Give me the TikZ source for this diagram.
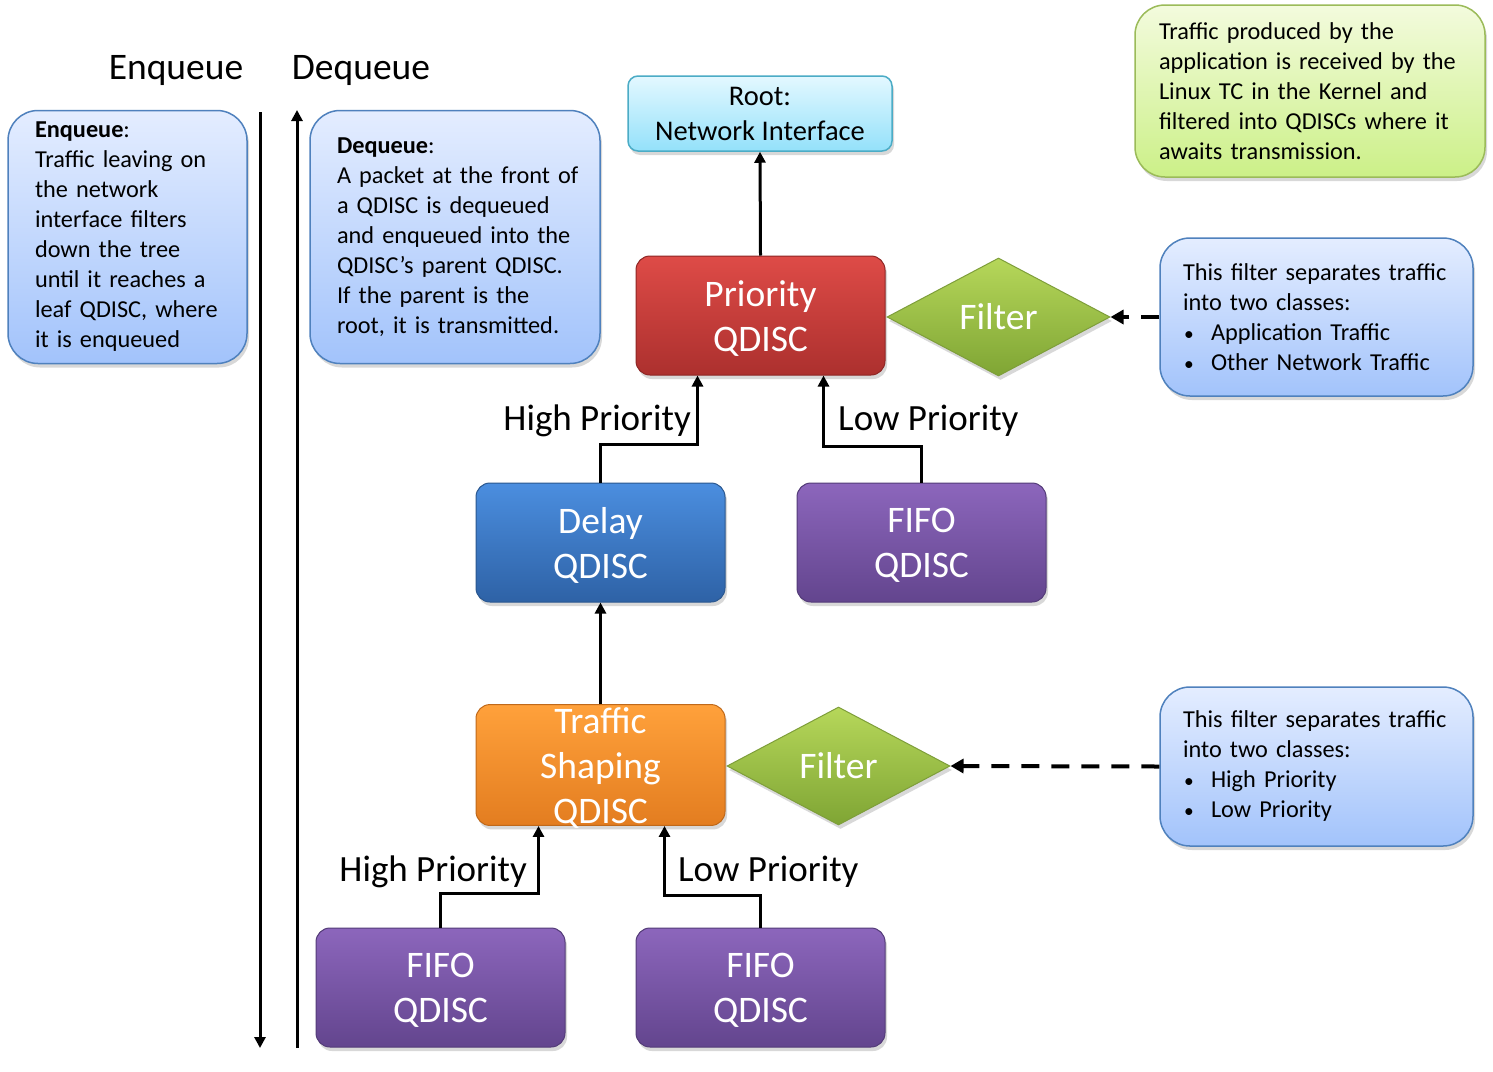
\documentclass[tikz,border=0pt]{standalone}
\usepackage{fontspec}
\setmainfont{Carlito}
\usetikzlibrary{shapes.geometric,arrows.meta,shadows}
\definecolor{redT}{HTML}{DE4B47}\definecolor{redB}{HTML}{AC302E}\definecolor{redD}{HTML}{8E2624}
\definecolor{bluT}{HTML}{4B8EDF}\definecolor{bluB}{HTML}{2E62A6}\definecolor{bluD}{HTML}{2A578F}
\definecolor{purT}{HTML}{8C66BC}\definecolor{purB}{HTML}{63458E}\definecolor{purD}{HTML}{533B78}
\definecolor{oraT}{HTML}{FFA13B}\definecolor{oraB}{HTML}{E37D20}\definecolor{oraD}{HTML}{C0691A}
\definecolor{rooT}{HTML}{E3F8FF}\definecolor{rooB}{HTML}{94E1FA}\definecolor{rooD}{HTML}{4BACC6}
\definecolor{grnT}{HTML}{F3FBDD}\definecolor{grnB}{HTML}{CCF088}\definecolor{grnD}{HTML}{9BBB59}
\definecolor{notT}{HTML}{E4EDFF}\definecolor{notB}{HTML}{A2C3FB}\definecolor{notD}{HTML}{4F81BD}
\definecolor{dmdT}{HTML}{B6D75A}\definecolor{dmdB}{HTML}{7FA534}\definecolor{dmdD}{HTML}{7E9E3A}
\newcommand{\qtxt}[1]{\raisebox{-3pt}[\height][\depth]{\parbox{240pt}{\centering #1}}}
\begin{document}
\begin{tikzpicture}[x=1pt,y=-1pt,
  shad/.style={drop shadow={opacity=0.3,shadow xshift=2pt,shadow yshift=-4pt}},
  qbox/.style={shad,rounded corners=14pt,minimum width=249pt,minimum height=119pt,
    text=white,font=\fontsize{37.5}{45}\selectfont,align=center,line width=1pt,inner sep=0pt},
  redq/.style={qbox,draw=redD,top color=redT,bottom color=redB},
  bluq/.style={qbox,draw=bluD,top color=bluT,bottom color=bluB},
  purq/.style={qbox,draw=purD,top color=purT,bottom color=purB},
  oraq/.style={qbox,draw=oraD,top color=oraT,bottom color=oraB},
  note/.style={shad,rounded corners=30pt,line width=1.5pt,draw=notD,top color=notT,bottom color=notB,
    align=left,font=\fontsize{24.3}{30}\selectfont,inner ysep=0pt},
  dmd/.style={shad,diamond,minimum width=223pt,minimum height=118pt,inner sep=0pt,
    draw=dmdD,line width=1pt,top color=dmdT,bottom color=dmdB,text=white,font=\fontsize{37.5}{45}\selectfont},
  lbl/.style={font=\fontsize{37}{40}\selectfont,inner sep=0pt},
  hdr/.style={font=\fontsize{37.5}{40}\selectfont,inner sep=0pt},
  arr/.style={line width=3pt,-{Triangle[length=11pt,width=11pt]}},
  darr/.style={line width=4pt,dash pattern=on 18pt off 12pt,-{Triangle[length=13pt,width=14pt]}}
]
\useasboundingbox[fill=white] (0,0) rectangle (1493,1071);

% headers
\node[hdr] (hen) at (176,70) {Enqueue};
\node[hdr] (hde) at (361,70) {Dequeue};

% left notes
\node[note,minimum width=239pt,minimum height=253pt,text width=185pt,inner xsep=27pt] (enq) at (127.5,237)
 {\textbf{Enqueue}:\\Traffic leaving on\\the network\\interface filters\\down the tree\\until it reaches a\\leaf QDISC, where\\it is enqueued};
\node[note,minimum width=290pt,minimum height=253pt,text width=236pt,inner xsep=27pt] (deq) at (455,237)
 {\textbf{Dequeue}:\\A~packet~at~the~front~of\\a QDISC is dequeued\\and enqueued into the\\QDISC’s parent QDISC.\\If the parent is the\\root, it is transmitted.};

% vertical arrows
\coordinate (ea) at (260,112); \coordinate (eb) at (260,1048);
\coordinate (da) at (297,1048); \coordinate (db) at (297,110);
\draw[arr] (ea) -- (eb);
\draw[arr] (da) -- (db);

% root
\node[shad,rounded corners=10pt,minimum width=264pt,minimum height=75pt,line width=1.5pt,draw=rooD,
  top color=rooT,bottom color=rooB,align=center,font=\fontsize{28.5}{35}\selectfont,inner sep=0pt] (root) at (760,113.5)
 {Root:\\Network Interface};

% green note
\node[shad,rounded corners=30pt,line width=1.5pt,draw=grnD,top color=grnT,bottom color=grnB,
  align=left,font=\fontsize{24.3}{30}\selectfont,minimum width=350pt,minimum height=172pt,
  text width=302pt,inner xsep=24pt,inner ysep=0pt] (gn) at (1310,91)
 {Traffic produced by the\\application is received by the\\Linux TC in the Kernel and\\filtered into QDISCs where it\\awaits transmission.};

% qdiscs
\node[redq] (prio) at (760.5,315.5) {\qtxt{Priority\\QDISC}};
\node[dmd] (f1) at (998.5,317) {Filter};
\node[bluq] (delay) at (600.5,542.5) {\qtxt{Delay\\QDISC}};
\node[purq] (fifo1) at (921.5,542.5) {\qtxt{FIFO\\QDISC}};
\node[oraq] (ts) at (600.5,765) {\qtxt{Traffic\\Shaping\\QDISC}};
\node[dmd] (f2) at (838.5,766) {Filter};
\node[purq] (fifo2) at (440.5,987.5) {\qtxt{FIFO\\QDISC}};
\node[purq] (fifo3) at (760.5,987.5) {\qtxt{FIFO\\QDISC}};

% right notes
\node[note,minimum width=313pt,minimum height=158pt,text width=267pt,inner xsep=23pt] (n1) at (1316.5,317)
 {This filter separates traffic\\into two classes:\\\makebox[28pt][l]{\hspace*{1pt}\scalebox{0.8}{•}}Application Traffic\\\makebox[28pt][l]{\hspace*{1pt}\scalebox{0.8}{•}}Other Network Traffic};
\node[note,minimum width=313pt,minimum height=159pt,text width=267pt,inner xsep=23pt] (n2) at (1316.5,766.5)
 {This filter separates traffic\\into two classes:\\\makebox[28pt][l]{\hspace*{1pt}\scalebox{0.8}{•}}High Priority\\\makebox[28pt][l]{\hspace*{1pt}\scalebox{0.8}{•}}Low Priority};

% connectors
\draw[arr] (prio.north) -- (root.south);
\draw[arr] (delay.north) -- ++(0,-38) -| ([xshift=62pt]prio.south west);
\draw[arr] (fifo1.north) -- ++(0,-36) -| ([xshift=-62pt]prio.south east);
\draw[arr] (ts.north) -- (delay.south);
\draw[arr] (fifo2.north) -- ++(0,-34) -| ([xshift=63pt]ts.south west);
\draw[arr] (fifo3.north) -- ++(0,-32) -| ([xshift=-61pt]ts.south east);
\draw[darr] (n1.west) -- (f1.east);
\draw[darr] (n2.west) -- (f2.east);

% labels
\node[lbl,anchor=east] (l1) at (691,421) {High Priority};
\node[lbl,anchor=west] (l2) at (838,421) {Low Priority};
\node[lbl,anchor=east] (l3) at (527,872) {High Priority};
\node[lbl,anchor=west] (l4) at (678,872) {Low Priority};
\end{tikzpicture}
\end{document}
